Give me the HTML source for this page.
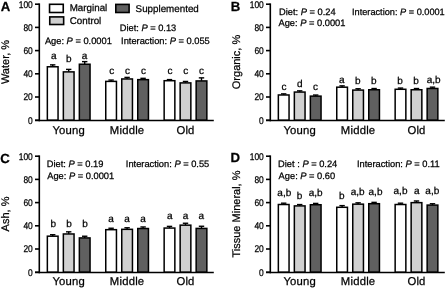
<!DOCTYPE html>
<html><head><meta charset="utf-8"><style>
html,body{margin:0;padding:0;background:#fff;width:446px;height:289px;overflow:hidden}
svg{display:block;will-change:transform;filter:blur(0.3px)}
text{font-family:"Liberation Sans", sans-serif;fill:#000;text-rendering:geometricPrecision;stroke:#000;stroke-width:0.25px}
</style></head><body>
<svg width="446" height="289" viewBox="0 0 446 289">
<g transform="translate(0,0)">
<text x="0.80" y="10.80" font-size="13.2" text-anchor="start" font-weight="bold" >A</text>
<text transform="translate(9.4,62) rotate(-90)" font-size="11" text-anchor="middle">Water, %</text>
<line x1="35" y1="120.20" x2="39.30" y2="120.20" stroke="#000" stroke-width="1.6"/>
<text transform="translate(32.8,123.55) scale(0.87,1)" font-size="9.7" text-anchor="end">0</text>
<line x1="35" y1="97.00" x2="39.30" y2="97.00" stroke="#000" stroke-width="1.6"/>
<text transform="translate(32.8,100.35) scale(0.87,1)" font-size="9.7" text-anchor="end">20</text>
<line x1="35" y1="73.80" x2="39.30" y2="73.80" stroke="#000" stroke-width="1.6"/>
<text transform="translate(32.8,77.15) scale(0.87,1)" font-size="9.7" text-anchor="end">40</text>
<line x1="35" y1="50.60" x2="39.30" y2="50.60" stroke="#000" stroke-width="1.6"/>
<text transform="translate(32.8,53.95) scale(0.87,1)" font-size="9.7" text-anchor="end">60</text>
<line x1="35" y1="27.40" x2="39.30" y2="27.40" stroke="#000" stroke-width="1.6"/>
<text transform="translate(32.8,30.75) scale(0.87,1)" font-size="9.7" text-anchor="end">80</text>
<line x1="35" y1="4.20" x2="39.30" y2="4.20" stroke="#000" stroke-width="1.6"/>
<text transform="translate(32.8,7.55) scale(0.87,1)" font-size="9.7" text-anchor="end">100</text>
<line x1="52.70" y1="66.78" x2="52.70" y2="64.87" stroke="#000" stroke-width="1.4"/>
<line x1="50.00" y1="64.87" x2="55.40" y2="64.87" stroke="#000" stroke-width="1.4"/>
<rect x="47.35" y="66.78" width="10.70" height="53.42" fill="#ffffff" stroke="#000" stroke-width="1.5"/>
<line x1="68.70" y1="71.88" x2="68.70" y2="69.39" stroke="#000" stroke-width="1.4"/>
<line x1="66.00" y1="69.39" x2="71.40" y2="69.39" stroke="#000" stroke-width="1.4"/>
<rect x="63.35" y="71.88" width="10.70" height="48.32" fill="#d0d0d0" stroke="#000" stroke-width="1.5"/>
<line x1="84.70" y1="64.23" x2="84.70" y2="61.62" stroke="#000" stroke-width="1.4"/>
<line x1="82.00" y1="61.62" x2="87.40" y2="61.62" stroke="#000" stroke-width="1.4"/>
<rect x="79.35" y="64.23" width="10.70" height="55.97" fill="#606060" stroke="#000" stroke-width="1.5"/>
<line x1="111.10" y1="81.39" x2="111.10" y2="80.06" stroke="#000" stroke-width="1.4"/>
<line x1="108.40" y1="80.06" x2="113.80" y2="80.06" stroke="#000" stroke-width="1.4"/>
<rect x="105.75" y="81.39" width="10.70" height="38.81" fill="#ffffff" stroke="#000" stroke-width="1.5"/>
<line x1="127.10" y1="78.96" x2="127.10" y2="77.40" stroke="#000" stroke-width="1.4"/>
<line x1="124.40" y1="77.40" x2="129.80" y2="77.40" stroke="#000" stroke-width="1.4"/>
<rect x="121.75" y="78.96" width="10.70" height="41.24" fill="#d0d0d0" stroke="#000" stroke-width="1.5"/>
<line x1="143.10" y1="79.65" x2="143.10" y2="78.32" stroke="#000" stroke-width="1.4"/>
<line x1="140.40" y1="78.32" x2="145.80" y2="78.32" stroke="#000" stroke-width="1.4"/>
<rect x="137.75" y="79.65" width="10.70" height="40.55" fill="#606060" stroke="#000" stroke-width="1.5"/>
<line x1="169.50" y1="80.70" x2="169.50" y2="79.60" stroke="#000" stroke-width="1.4"/>
<line x1="166.80" y1="79.60" x2="172.20" y2="79.60" stroke="#000" stroke-width="1.4"/>
<rect x="164.15" y="80.70" width="10.70" height="39.50" fill="#ffffff" stroke="#000" stroke-width="1.5"/>
<line x1="185.50" y1="82.90" x2="185.50" y2="81.46" stroke="#000" stroke-width="1.4"/>
<line x1="182.80" y1="81.46" x2="188.20" y2="81.46" stroke="#000" stroke-width="1.4"/>
<rect x="180.15" y="82.90" width="10.70" height="37.30" fill="#d0d0d0" stroke="#000" stroke-width="1.5"/>
<line x1="201.50" y1="80.93" x2="201.50" y2="77.86" stroke="#000" stroke-width="1.4"/>
<line x1="198.80" y1="77.86" x2="204.20" y2="77.86" stroke="#000" stroke-width="1.4"/>
<rect x="196.15" y="80.93" width="10.70" height="39.27" fill="#606060" stroke="#000" stroke-width="1.5"/>
<line x1="39.30" y1="3.40" x2="39.30" y2="121.30" stroke="#000" stroke-width="1.6"/>
<line x1="35" y1="120.55" x2="213.80" y2="120.55" stroke="#000" stroke-width="1.6"/>
<text x="68.70" y="134.10" font-size="11.3" text-anchor="middle" font-weight="normal" letter-spacing="0.2">Young</text>
<text x="127.10" y="134.10" font-size="11.3" text-anchor="middle" font-weight="normal" letter-spacing="0.2">Middle</text>
<text x="185.50" y="134.10" font-size="11.3" text-anchor="middle" font-weight="normal" letter-spacing="0.2">Old</text>
</g>
<g transform="translate(231,0)">
<text x="-0.30" y="10.50" font-size="13.2" text-anchor="start" font-weight="bold" >B</text>
<text transform="translate(9.4,62) rotate(-90)" font-size="11" text-anchor="middle">Organic, %</text>
<line x1="35" y1="120.20" x2="39.30" y2="120.20" stroke="#000" stroke-width="1.6"/>
<text transform="translate(32.8,123.55) scale(0.87,1)" font-size="9.7" text-anchor="end">0</text>
<line x1="35" y1="97.00" x2="39.30" y2="97.00" stroke="#000" stroke-width="1.6"/>
<text transform="translate(32.8,100.35) scale(0.87,1)" font-size="9.7" text-anchor="end">20</text>
<line x1="35" y1="73.80" x2="39.30" y2="73.80" stroke="#000" stroke-width="1.6"/>
<text transform="translate(32.8,77.15) scale(0.87,1)" font-size="9.7" text-anchor="end">40</text>
<line x1="35" y1="50.60" x2="39.30" y2="50.60" stroke="#000" stroke-width="1.6"/>
<text transform="translate(32.8,53.95) scale(0.87,1)" font-size="9.7" text-anchor="end">60</text>
<line x1="35" y1="27.40" x2="39.30" y2="27.40" stroke="#000" stroke-width="1.6"/>
<text transform="translate(32.8,30.75) scale(0.87,1)" font-size="9.7" text-anchor="end">80</text>
<line x1="35" y1="4.20" x2="39.30" y2="4.20" stroke="#000" stroke-width="1.6"/>
<text transform="translate(32.8,7.55) scale(0.87,1)" font-size="9.7" text-anchor="end">100</text>
<line x1="52.70" y1="94.97" x2="52.70" y2="93.87" stroke="#000" stroke-width="1.4"/>
<line x1="50.00" y1="93.87" x2="55.40" y2="93.87" stroke="#000" stroke-width="1.4"/>
<rect x="47.35" y="94.97" width="10.70" height="25.23" fill="#ffffff" stroke="#000" stroke-width="1.5"/>
<line x1="68.70" y1="92.07" x2="68.70" y2="90.85" stroke="#000" stroke-width="1.4"/>
<line x1="66.00" y1="90.85" x2="71.40" y2="90.85" stroke="#000" stroke-width="1.4"/>
<rect x="63.35" y="92.07" width="10.70" height="28.13" fill="#d0d0d0" stroke="#000" stroke-width="1.5"/>
<line x1="84.70" y1="96.13" x2="84.70" y2="95.03" stroke="#000" stroke-width="1.4"/>
<line x1="82.00" y1="95.03" x2="87.40" y2="95.03" stroke="#000" stroke-width="1.4"/>
<rect x="79.35" y="96.13" width="10.70" height="24.07" fill="#606060" stroke="#000" stroke-width="1.5"/>
<line x1="111.10" y1="87.19" x2="111.10" y2="85.86" stroke="#000" stroke-width="1.4"/>
<line x1="108.40" y1="85.86" x2="113.80" y2="85.86" stroke="#000" stroke-width="1.4"/>
<rect x="105.75" y="87.19" width="10.70" height="33.01" fill="#ffffff" stroke="#000" stroke-width="1.5"/>
<line x1="127.10" y1="90.09" x2="127.10" y2="88.76" stroke="#000" stroke-width="1.4"/>
<line x1="124.40" y1="88.76" x2="129.80" y2="88.76" stroke="#000" stroke-width="1.4"/>
<rect x="121.75" y="90.09" width="10.70" height="30.11" fill="#d0d0d0" stroke="#000" stroke-width="1.5"/>
<line x1="143.10" y1="89.75" x2="143.10" y2="88.53" stroke="#000" stroke-width="1.4"/>
<line x1="140.40" y1="88.53" x2="145.80" y2="88.53" stroke="#000" stroke-width="1.4"/>
<rect x="137.75" y="89.75" width="10.70" height="30.45" fill="#606060" stroke="#000" stroke-width="1.5"/>
<line x1="169.50" y1="89.28" x2="169.50" y2="88.07" stroke="#000" stroke-width="1.4"/>
<line x1="166.80" y1="88.07" x2="172.20" y2="88.07" stroke="#000" stroke-width="1.4"/>
<rect x="164.15" y="89.28" width="10.70" height="30.92" fill="#ffffff" stroke="#000" stroke-width="1.5"/>
<line x1="185.50" y1="89.75" x2="185.50" y2="88.53" stroke="#000" stroke-width="1.4"/>
<line x1="182.80" y1="88.53" x2="188.20" y2="88.53" stroke="#000" stroke-width="1.4"/>
<rect x="180.15" y="89.75" width="10.70" height="30.45" fill="#d0d0d0" stroke="#000" stroke-width="1.5"/>
<line x1="201.50" y1="88.47" x2="201.50" y2="87.14" stroke="#000" stroke-width="1.4"/>
<line x1="198.80" y1="87.14" x2="204.20" y2="87.14" stroke="#000" stroke-width="1.4"/>
<rect x="196.15" y="88.47" width="10.70" height="31.73" fill="#606060" stroke="#000" stroke-width="1.5"/>
<line x1="39.30" y1="3.40" x2="39.30" y2="121.30" stroke="#000" stroke-width="1.6"/>
<line x1="35" y1="120.55" x2="213.80" y2="120.55" stroke="#000" stroke-width="1.6"/>
<text x="68.70" y="134.10" font-size="11.3" text-anchor="middle" font-weight="normal" letter-spacing="0.2">Young</text>
<text x="127.10" y="134.10" font-size="11.3" text-anchor="middle" font-weight="normal" letter-spacing="0.2">Middle</text>
<text x="185.50" y="134.10" font-size="11.3" text-anchor="middle" font-weight="normal" letter-spacing="0.2">Old</text>
</g>
<g transform="translate(0,152)">
<text x="0.20" y="10.50" font-size="13.2" text-anchor="start" font-weight="bold" >C</text>
<text transform="translate(9.4,62) rotate(-90)" font-size="11" text-anchor="middle">Ash, %</text>
<line x1="35" y1="120.20" x2="39.30" y2="120.20" stroke="#000" stroke-width="1.6"/>
<text transform="translate(32.8,123.55) scale(0.87,1)" font-size="9.7" text-anchor="end">0</text>
<line x1="35" y1="97.00" x2="39.30" y2="97.00" stroke="#000" stroke-width="1.6"/>
<text transform="translate(32.8,100.35) scale(0.87,1)" font-size="9.7" text-anchor="end">20</text>
<line x1="35" y1="73.80" x2="39.30" y2="73.80" stroke="#000" stroke-width="1.6"/>
<text transform="translate(32.8,77.15) scale(0.87,1)" font-size="9.7" text-anchor="end">40</text>
<line x1="35" y1="50.60" x2="39.30" y2="50.60" stroke="#000" stroke-width="1.6"/>
<text transform="translate(32.8,53.95) scale(0.87,1)" font-size="9.7" text-anchor="end">60</text>
<line x1="35" y1="27.40" x2="39.30" y2="27.40" stroke="#000" stroke-width="1.6"/>
<text transform="translate(32.8,30.75) scale(0.87,1)" font-size="9.7" text-anchor="end">80</text>
<line x1="35" y1="4.20" x2="39.30" y2="4.20" stroke="#000" stroke-width="1.6"/>
<text transform="translate(32.8,7.55) scale(0.87,1)" font-size="9.7" text-anchor="end">100</text>
<line x1="52.70" y1="84.18" x2="52.70" y2="82.73" stroke="#000" stroke-width="1.4"/>
<line x1="50.00" y1="82.73" x2="55.40" y2="82.73" stroke="#000" stroke-width="1.4"/>
<rect x="47.35" y="84.18" width="10.70" height="36.02" fill="#ffffff" stroke="#000" stroke-width="1.5"/>
<line x1="68.70" y1="81.97" x2="68.70" y2="79.83" stroke="#000" stroke-width="1.4"/>
<line x1="66.00" y1="79.83" x2="71.40" y2="79.83" stroke="#000" stroke-width="1.4"/>
<rect x="63.35" y="81.97" width="10.70" height="38.23" fill="#d0d0d0" stroke="#000" stroke-width="1.5"/>
<line x1="84.70" y1="85.92" x2="84.70" y2="84.24" stroke="#000" stroke-width="1.4"/>
<line x1="82.00" y1="84.24" x2="87.40" y2="84.24" stroke="#000" stroke-width="1.4"/>
<rect x="79.35" y="85.92" width="10.70" height="34.28" fill="#606060" stroke="#000" stroke-width="1.5"/>
<line x1="111.10" y1="77.68" x2="111.10" y2="76.24" stroke="#000" stroke-width="1.4"/>
<line x1="108.40" y1="76.24" x2="113.80" y2="76.24" stroke="#000" stroke-width="1.4"/>
<rect x="105.75" y="77.68" width="10.70" height="42.52" fill="#ffffff" stroke="#000" stroke-width="1.5"/>
<line x1="127.10" y1="77.33" x2="127.10" y2="75.77" stroke="#000" stroke-width="1.4"/>
<line x1="124.40" y1="75.77" x2="129.80" y2="75.77" stroke="#000" stroke-width="1.4"/>
<rect x="121.75" y="77.33" width="10.70" height="42.87" fill="#d0d0d0" stroke="#000" stroke-width="1.5"/>
<line x1="143.10" y1="76.52" x2="143.10" y2="74.96" stroke="#000" stroke-width="1.4"/>
<line x1="140.40" y1="74.96" x2="145.80" y2="74.96" stroke="#000" stroke-width="1.4"/>
<rect x="137.75" y="76.52" width="10.70" height="43.68" fill="#606060" stroke="#000" stroke-width="1.5"/>
<line x1="169.50" y1="76.06" x2="169.50" y2="74.38" stroke="#000" stroke-width="1.4"/>
<line x1="166.80" y1="74.38" x2="172.20" y2="74.38" stroke="#000" stroke-width="1.4"/>
<rect x="164.15" y="76.06" width="10.70" height="44.14" fill="#ffffff" stroke="#000" stroke-width="1.5"/>
<line x1="185.50" y1="73.16" x2="185.50" y2="71.25" stroke="#000" stroke-width="1.4"/>
<line x1="182.80" y1="71.25" x2="188.20" y2="71.25" stroke="#000" stroke-width="1.4"/>
<rect x="180.15" y="73.16" width="10.70" height="47.04" fill="#d0d0d0" stroke="#000" stroke-width="1.5"/>
<line x1="201.50" y1="76.41" x2="201.50" y2="74.26" stroke="#000" stroke-width="1.4"/>
<line x1="198.80" y1="74.26" x2="204.20" y2="74.26" stroke="#000" stroke-width="1.4"/>
<rect x="196.15" y="76.41" width="10.70" height="43.79" fill="#606060" stroke="#000" stroke-width="1.5"/>
<line x1="39.30" y1="3.40" x2="39.30" y2="121.30" stroke="#000" stroke-width="1.6"/>
<line x1="35" y1="120.55" x2="213.80" y2="120.55" stroke="#000" stroke-width="1.6"/>
<text x="68.70" y="133.35" font-size="11.3" text-anchor="middle" font-weight="normal" letter-spacing="0.2">Young</text>
<text x="127.10" y="133.35" font-size="11.3" text-anchor="middle" font-weight="normal" letter-spacing="0.2">Middle</text>
<text x="185.50" y="133.35" font-size="11.3" text-anchor="middle" font-weight="normal" letter-spacing="0.2">Old</text>
</g>
<g transform="translate(231,152)">
<text x="-0.40" y="10.20" font-size="13.2" text-anchor="start" font-weight="bold" >D</text>
<text transform="translate(9.4,62) rotate(-90)" font-size="11" text-anchor="middle">Tissue Mineral, %</text>
<line x1="35" y1="120.20" x2="39.30" y2="120.20" stroke="#000" stroke-width="1.6"/>
<text transform="translate(32.8,123.55) scale(0.87,1)" font-size="9.7" text-anchor="end">0</text>
<line x1="35" y1="97.00" x2="39.30" y2="97.00" stroke="#000" stroke-width="1.6"/>
<text transform="translate(32.8,100.35) scale(0.87,1)" font-size="9.7" text-anchor="end">20</text>
<line x1="35" y1="73.80" x2="39.30" y2="73.80" stroke="#000" stroke-width="1.6"/>
<text transform="translate(32.8,77.15) scale(0.87,1)" font-size="9.7" text-anchor="end">40</text>
<line x1="35" y1="50.60" x2="39.30" y2="50.60" stroke="#000" stroke-width="1.6"/>
<text transform="translate(32.8,53.95) scale(0.87,1)" font-size="9.7" text-anchor="end">60</text>
<line x1="35" y1="27.40" x2="39.30" y2="27.40" stroke="#000" stroke-width="1.6"/>
<text transform="translate(32.8,30.75) scale(0.87,1)" font-size="9.7" text-anchor="end">80</text>
<line x1="35" y1="4.20" x2="39.30" y2="4.20" stroke="#000" stroke-width="1.6"/>
<text transform="translate(32.8,7.55) scale(0.87,1)" font-size="9.7" text-anchor="end">100</text>
<line x1="52.70" y1="52.51" x2="52.70" y2="51.18" stroke="#000" stroke-width="1.4"/>
<line x1="50.00" y1="51.18" x2="55.40" y2="51.18" stroke="#000" stroke-width="1.4"/>
<rect x="47.35" y="52.51" width="10.70" height="67.69" fill="#ffffff" stroke="#000" stroke-width="1.5"/>
<line x1="68.70" y1="53.90" x2="68.70" y2="52.57" stroke="#000" stroke-width="1.4"/>
<line x1="66.00" y1="52.57" x2="71.40" y2="52.57" stroke="#000" stroke-width="1.4"/>
<rect x="63.35" y="53.90" width="10.70" height="66.30" fill="#d0d0d0" stroke="#000" stroke-width="1.5"/>
<line x1="84.70" y1="52.74" x2="84.70" y2="51.41" stroke="#000" stroke-width="1.4"/>
<line x1="82.00" y1="51.41" x2="87.40" y2="51.41" stroke="#000" stroke-width="1.4"/>
<rect x="79.35" y="52.74" width="10.70" height="67.46" fill="#606060" stroke="#000" stroke-width="1.5"/>
<line x1="111.10" y1="55.29" x2="111.10" y2="53.62" stroke="#000" stroke-width="1.4"/>
<line x1="108.40" y1="53.62" x2="113.80" y2="53.62" stroke="#000" stroke-width="1.4"/>
<rect x="105.75" y="55.29" width="10.70" height="64.91" fill="#ffffff" stroke="#000" stroke-width="1.5"/>
<line x1="127.10" y1="52.16" x2="127.10" y2="50.83" stroke="#000" stroke-width="1.4"/>
<line x1="124.40" y1="50.83" x2="129.80" y2="50.83" stroke="#000" stroke-width="1.4"/>
<rect x="121.75" y="52.16" width="10.70" height="68.04" fill="#d0d0d0" stroke="#000" stroke-width="1.5"/>
<line x1="143.10" y1="51.70" x2="143.10" y2="50.37" stroke="#000" stroke-width="1.4"/>
<line x1="140.40" y1="50.37" x2="145.80" y2="50.37" stroke="#000" stroke-width="1.4"/>
<rect x="137.75" y="51.70" width="10.70" height="68.50" fill="#606060" stroke="#000" stroke-width="1.5"/>
<line x1="169.50" y1="52.51" x2="169.50" y2="51.18" stroke="#000" stroke-width="1.4"/>
<line x1="166.80" y1="51.18" x2="172.20" y2="51.18" stroke="#000" stroke-width="1.4"/>
<rect x="164.15" y="52.51" width="10.70" height="67.69" fill="#ffffff" stroke="#000" stroke-width="1.5"/>
<line x1="185.50" y1="50.65" x2="185.50" y2="48.98" stroke="#000" stroke-width="1.4"/>
<line x1="182.80" y1="48.98" x2="188.20" y2="48.98" stroke="#000" stroke-width="1.4"/>
<rect x="180.15" y="50.65" width="10.70" height="69.55" fill="#d0d0d0" stroke="#000" stroke-width="1.5"/>
<line x1="201.50" y1="53.09" x2="201.50" y2="51.76" stroke="#000" stroke-width="1.4"/>
<line x1="198.80" y1="51.76" x2="204.20" y2="51.76" stroke="#000" stroke-width="1.4"/>
<rect x="196.15" y="53.09" width="10.70" height="67.11" fill="#606060" stroke="#000" stroke-width="1.5"/>
<line x1="39.30" y1="3.40" x2="39.30" y2="121.30" stroke="#000" stroke-width="1.6"/>
<line x1="35" y1="120.55" x2="213.80" y2="120.55" stroke="#000" stroke-width="1.6"/>
<text x="68.70" y="133.35" font-size="11.3" text-anchor="middle" font-weight="normal" letter-spacing="0.2">Young</text>
<text x="127.10" y="133.35" font-size="11.3" text-anchor="middle" font-weight="normal" letter-spacing="0.2">Middle</text>
<text x="185.50" y="133.35" font-size="11.3" text-anchor="middle" font-weight="normal" letter-spacing="0.2">Old</text>
</g>
<text x="53.70" y="58.80" font-size="10" text-anchor="middle" font-weight="normal" >a</text>
<text x="68.70" y="62.40" font-size="10" text-anchor="middle" font-weight="normal" >b</text>
<text x="84.50" y="58.80" font-size="10" text-anchor="middle" font-weight="normal" >a</text>
<text x="111.70" y="74.20" font-size="10" text-anchor="middle" font-weight="normal" >c</text>
<text x="127.60" y="74.20" font-size="10" text-anchor="middle" font-weight="normal" >c</text>
<text x="143.60" y="74.20" font-size="10" text-anchor="middle" font-weight="normal" >c</text>
<text x="169.90" y="74.10" font-size="10" text-anchor="middle" font-weight="normal" >c</text>
<text x="185.70" y="74.10" font-size="10" text-anchor="middle" font-weight="normal" >c</text>
<text x="201.40" y="74.10" font-size="10" text-anchor="middle" font-weight="normal" >c</text>
<text x="283.90" y="89.70" font-size="10" text-anchor="middle" font-weight="normal" >c</text>
<text x="299.70" y="86.60" font-size="10" text-anchor="middle" font-weight="normal" >d</text>
<text x="315.60" y="89.70" font-size="10" text-anchor="middle" font-weight="normal" >c</text>
<text x="341.70" y="83.00" font-size="10" text-anchor="middle" font-weight="normal" >a</text>
<text x="357.70" y="83.50" font-size="10" text-anchor="middle" font-weight="normal" >b</text>
<text x="373.70" y="83.50" font-size="10" text-anchor="middle" font-weight="normal" >b</text>
<text x="400.00" y="83.50" font-size="10" text-anchor="middle" font-weight="normal" >b</text>
<text x="416.00" y="83.50" font-size="10" text-anchor="middle" font-weight="normal" >b</text>
<text x="433.60" y="83.00" font-size="10" text-anchor="middle" font-weight="normal" >a,b</text>
<text x="53.20" y="226.90" font-size="10" text-anchor="middle" font-weight="normal" >b</text>
<text x="69.10" y="226.90" font-size="10" text-anchor="middle" font-weight="normal" >b</text>
<text x="85.00" y="226.90" font-size="10" text-anchor="middle" font-weight="normal" >b</text>
<text x="111.10" y="221.80" font-size="10" text-anchor="middle" font-weight="normal" >a</text>
<text x="127.10" y="221.80" font-size="10" text-anchor="middle" font-weight="normal" >a</text>
<text x="143.10" y="221.80" font-size="10" text-anchor="middle" font-weight="normal" >a</text>
<text x="169.80" y="219.30" font-size="10" text-anchor="middle" font-weight="normal" >a</text>
<text x="185.50" y="219.30" font-size="10" text-anchor="middle" font-weight="normal" >a</text>
<text x="201.40" y="219.30" font-size="10" text-anchor="middle" font-weight="normal" >a</text>
<text x="284.30" y="195.50" font-size="10" text-anchor="middle" font-weight="normal" >a,b</text>
<text x="299.50" y="198.70" font-size="10" text-anchor="middle" font-weight="normal" >b</text>
<text x="315.60" y="195.50" font-size="10" text-anchor="middle" font-weight="normal" >a,b</text>
<text x="341.80" y="199.10" font-size="10" text-anchor="middle" font-weight="normal" >b</text>
<text x="357.70" y="194.50" font-size="10" text-anchor="middle" font-weight="normal" >a,b</text>
<text x="375.50" y="194.50" font-size="10" text-anchor="middle" font-weight="normal" >a,b</text>
<text x="400.50" y="194.20" font-size="10" text-anchor="middle" font-weight="normal" >a,b</text>
<text x="416.70" y="194.20" font-size="10" text-anchor="middle" font-weight="normal" >a</text>
<text x="432.30" y="194.20" font-size="10" text-anchor="middle" font-weight="normal" >a,b</text>
<rect x="49.55" y="4.3" width="13.7" height="8.2" fill="#fff" stroke="#000" stroke-width="1.6"/>
<rect x="49.75" y="16.9" width="13.9" height="7.6" fill="#d0d0d0" stroke="#000" stroke-width="1.6"/>
<rect x="115.8" y="4.4" width="13.3" height="8.1" fill="#606060" stroke="#000" stroke-width="1.6"/>
<text x="69.70" y="11.40" font-size="9.8" text-anchor="start" font-weight="normal" >Marginal</text>
<text x="69.70" y="23.80" font-size="9.8" text-anchor="start" font-weight="normal" >Control</text>
<text x="135.60" y="11.90" font-size="9.8" text-anchor="start" font-weight="normal" >Supplemented</text>
<text x="119.70" y="31.40" font-size="9.3" text-anchor="start" font-weight="normal" xml:space="preserve">Diet: <tspan font-style="italic">P</tspan> = 0.13</text>
<text x="44.90" y="43.70" font-size="9.3" text-anchor="start" font-weight="normal" xml:space="preserve">Age: <tspan font-style="italic">P</tspan> = 0.0001</text>
<text x="121.10" y="43.60" font-size="9.3" text-anchor="start" font-weight="normal" xml:space="preserve">Interaction: <tspan font-style="italic">P</tspan> = 0.055</text>
<text x="279.00" y="14.70" font-size="9.3" text-anchor="start" font-weight="normal" xml:space="preserve">Diet: <tspan font-style="italic">P</tspan> = 0.24</text>
<text x="278.50" y="26.40" font-size="9.3" text-anchor="start" font-weight="normal" xml:space="preserve">Age: <tspan font-style="italic">P</tspan> = 0.0001</text>
<text x="352.00" y="15.00" font-size="9.2" text-anchor="start" font-weight="normal" xml:space="preserve">Interaction: <tspan font-style="italic">P</tspan> = 0.0001</text>
<text x="46.80" y="166.70" font-size="9.3" text-anchor="start" font-weight="normal" xml:space="preserve">Diet: <tspan font-style="italic">P</tspan> = 0.19</text>
<text x="47.20" y="178.50" font-size="9.3" text-anchor="start" font-weight="normal" xml:space="preserve">Age: <tspan font-style="italic">P</tspan> = 0.0001</text>
<text x="125.80" y="166.50" font-size="9.3" text-anchor="start" font-weight="normal" xml:space="preserve">Interaction: <tspan font-style="italic">P</tspan> = 0.55</text>
<text x="278.10" y="166.70" font-size="9.3" text-anchor="start" font-weight="normal" xml:space="preserve">Diet : <tspan font-style="italic">P</tspan> = 0.24</text>
<text x="278.60" y="178.50" font-size="9.3" text-anchor="start" font-weight="normal" xml:space="preserve">Age: <tspan font-style="italic">P</tspan> = 0.60</text>
<text x="356.90" y="166.50" font-size="9.3" text-anchor="start" font-weight="normal" xml:space="preserve">Interaction: <tspan font-style="italic">P</tspan> = 0.11</text>
</svg>
</body></html>
